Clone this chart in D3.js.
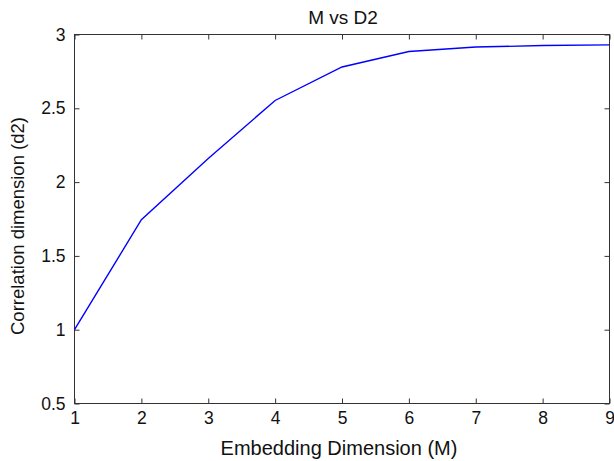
<!DOCTYPE html>
<html><head><meta charset="utf-8">
<script src="https://cdn.jsdelivr.net/npm/d3@7"></script>
<style>body{margin:0;background:#fff}svg{display:block}text{font-family:"Liberation Sans",Arial,sans-serif;fill:#111}</style>
</head><body><svg id="c" width="614" height="461"></svg>
<script>
const mValues = [1, 2, 3, 4, 5, 6, 7, 8, 9];
const d2Values = [1.0, 1.745, 2.16, 2.553, 2.78, 2.885, 2.915, 2.925, 2.93];
const xTicks = [1, 2, 3, 4, 5, 6, 7, 8, 9];
const yTicks = [0.5, 1, 1.5, 2, 2.5, 3];
const title = "M vs D2";
const xLabel = "Embedding Dimension (M)";
const yLabel = "Correlation dimension (d2)";

const L = 74.5, R = 609.5, T = 34.5, B = 403.5;
const svg = d3.select("#c");
const x = d3.scaleLinear().domain([1, 9]).range([L, R]);
const y = d3.scaleLinear().domain([0.5, 3]).range([B, T]);
const axisColor = "#333";

svg.append("rect").attr("x", L).attr("y", T).attr("width", R - L).attr("height", B - T)
  .attr("fill", "none").attr("stroke", axisColor).attr("stroke-width", 1);

function styleAxis(g) {
  g.select(".domain").remove();
  g.selectAll("line").attr("stroke", axisColor);
  g.selectAll("text").attr("font-size", 17.5).attr("fill", "#111");
}
svg.append("g").attr("transform", `translate(0,${B})`)
  .call(d3.axisBottom(x).tickValues(xTicks).tickSize(-5).tickPadding(8).tickFormat(d3.format("d")))
  .call(styleAxis);
svg.append("g").attr("transform", `translate(0,${T})`)
  .call(d3.axisTop(x).tickValues(xTicks).tickSize(-5).tickFormat(""))
  .call(styleAxis);
svg.append("g").attr("transform", `translate(${L},0)`)
  .call(d3.axisLeft(y).tickValues(yTicks).tickSize(-5).tickPadding(9).tickFormat(d => String(d)))
  .call(styleAxis);
svg.append("g").attr("transform", `translate(${R},0)`)
  .call(d3.axisRight(y).tickValues(yTicks).tickSize(-5).tickFormat(""))
  .call(styleAxis);

const line = d3.line().x((d, i) => x(mValues[i])).y(d => y(d));
svg.append("path").datum(d2Values).attr("d", line)
  .attr("fill", "none").attr("stroke", "#0000ff").attr("stroke-width", 1.4);

svg.append("text").attr("x", 343).attr("y", 24).attr("text-anchor", "middle")
  .attr("font-size", 19).text(title);
svg.append("text").attr("x", 339).attr("y", 455).attr("text-anchor", "middle")
  .attr("font-size", 20).text(xLabel);
svg.append("text").attr("transform", `translate(24,226) rotate(-90)`).attr("text-anchor", "middle")
  .attr("font-size", 18.5).text(yLabel);
</script></body></html>
